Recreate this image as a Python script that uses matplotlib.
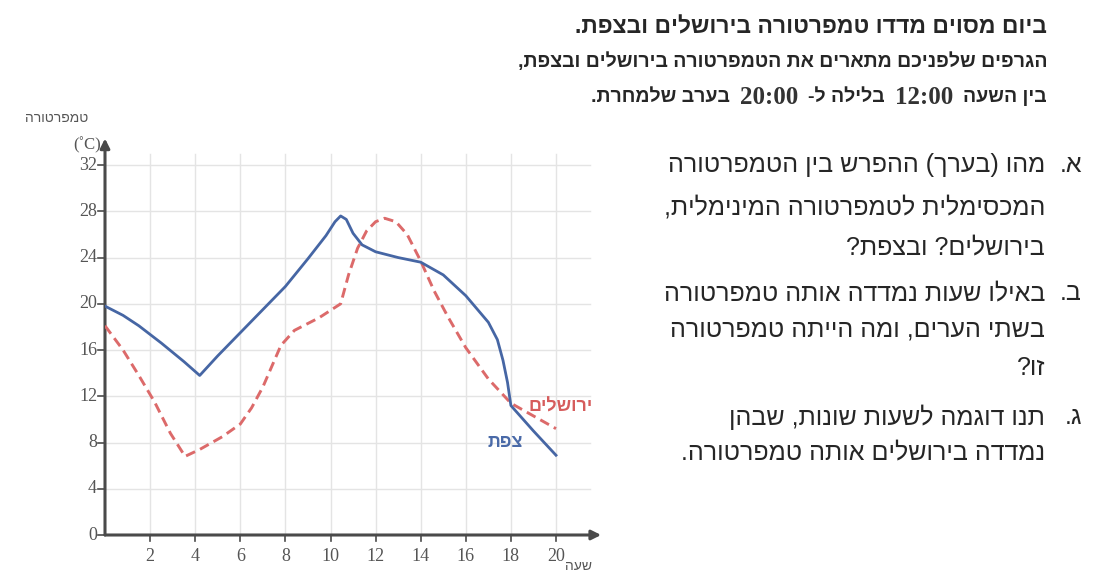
import re
import matplotlib
matplotlib.use('Agg')
import matplotlib.pyplot as plt

# שעות וטמפרטורות - צפת (קו רציף)
tz_hours = [0, 0.8, 1.5, 2.5, 3.5, 4.2, 5.0, 6.0, 7.0, 8.0, 9.0, 9.8, 10.2, 10.45, 10.7,
            11.0, 11.4, 12.0, 13.0, 14.0, 15.0, 16.0, 17.0, 17.4, 17.65, 17.85, 18.0, 19.0, 20.0]
tz_temp = [19.8, 19.0, 18.1, 16.6, 15.0, 13.8, 15.5, 17.5, 19.5, 21.5, 23.9, 25.9, 27.1, 27.6, 27.3,
           26.1, 25.1, 24.5, 24.0, 23.6, 22.5, 20.7, 18.4, 16.9, 15.1, 13.2, 11.2, 9.0, 6.9]

# ירושלים (קו מקווקו)
je_hours = [0, 0.8, 1.5, 2.2, 2.9, 3.55, 4.2, 5.2, 6.0, 6.5, 7.0, 7.8, 8.4, 9.5, 10.45, 10.8,
            11.2, 11.6, 12.0, 12.4, 12.9, 13.4, 14.0, 14.6, 15.2, 16.0, 17.0, 18.0, 19.0, 20.0]
je_temp = [18.1, 16.0, 13.8, 11.5, 8.8, 6.8, 7.4, 8.5, 9.6, 11.0, 12.8, 16.4, 17.7, 18.8, 20.0, 22.5,
           24.8, 26.3, 27.1, 27.4, 27.1, 26.0, 23.7, 21.1, 18.9, 16.2, 13.5, 11.4, 10.3, 9.2]

x_ticks = [2, 4, 6, 8, 10, 12, 14, 16, 18, 20]
y_ticks = [0, 4, 8, 12, 16, 20, 24, 28, 32]

header = [
    'ביום מסוים מדדו טמפרטורה בירושלים ובצפת.',
    'הגרפים שלפניכם מתארים את הטמפרטורה בירושלים ובצפת,',
]
header3 = ['בין השעה', '12:00', 'בלילה ל-', '20:00', 'בערב שלמחרת.']
questions = [
    ('א.', ['מהו (בערך) ההפרש בין הטמפרטורה', 'המכסימלית לטמפרטורה המינימלית,', 'בירושלים? ובצפת?']),
    ('ב.', ['באילו שעות נמדדה אותה טמפרטורה', 'בשתי הערים, ומה הייתה טמפרטורה', 'זו?']),
    ('ג.', ['תנו דוגמה לשעות שונות, שבהן', 'נמדדה בירושלים אותה טמפרטורה.']),
]

W, H = 1100, 586
HEB = ['Liberation Sans', 'DejaVu Sans']
SERIF = ['Liberation Serif', 'DejaVu Serif']


def vis(s):
    # סדר חזותי לטקסט מימין לשמאל (matplotlib לא עושה bidi)
    parts = re.findall(r'[0-9:]+|[^0-9:]+', s)
    out = []
    for p in reversed(parts):
        if p[0].isdigit():
            out.append(p)
        else:
            out.append(p[::-1].translate(str.maketrans('()', ')(')))
    return ''.join(out)


def px(x, y):
    return x / W, 1 - y / H


fig = plt.figure(figsize=(11, 5.86), dpi=100)
fig.patch.set_facecolor('white')

x0, y0 = 105, 51
sx, sy = 22.55, 11.56
ax = fig.add_axes([x0 / W, y0 / H, 22 * sx / W, 35 * sy / H])
ax.set_xlim(0, 22)
ax.set_ylim(0, 35)
ax.axis('off')

# רשת
for xv in x_ticks:
    ax.plot([xv, xv], [0, 33], color='#e4e4e4', lw=1, zorder=1)
for yv in y_ticks[1:]:
    ax.plot([0, 21.5], [yv, yv], color='#e4e4e4', lw=1, zorder=1)

# צירים עם חצים
axc = '#4a4a4a'
ax.annotate('', xy=(22, 0), xytext=(0, 0), annotation_clip=False,
            arrowprops=dict(arrowstyle='-|>', color=axc, lw=2.2, mutation_scale=14, shrinkA=0, shrinkB=0))
ax.annotate('', xy=(0, 34.3), xytext=(0, 0), annotation_clip=False,
            arrowprops=dict(arrowstyle='-|>', color=axc, lw=2.2, mutation_scale=14, shrinkA=0, shrinkB=0))

for xv in x_ticks:
    ax.plot([xv, xv], [0, -0.5], color=axc, lw=1.2, clip_on=False)
    ax.text(xv, -1.9, str(xv), ha='center', va='center', fontsize=13, color='#555555', family=SERIF)
for yv in y_ticks:
    ax.plot([-0.3, 0], [yv, yv], color=axc, lw=1.2, clip_on=False)
    ax.text(-0.35, yv, str(yv), ha='right', va='center', fontsize=13, color='#555555', family=SERIF)

# הקווים
ax.plot(je_hours, je_temp, color='#dc6a6a', lw=2.1, dashes=(3.4, 1.9), zorder=3)
ax.plot(tz_hours, tz_temp, color='#4666a4', lw=2.0, zorder=4)

ax.text(21.65, 11.1, vis('ירושלים'), color='#d65c5c', fontsize=13, fontweight='bold',
        ha='right', va='center', family=HEB)
ax.text(18.55, 8.0, vis('צפת'), color='#4a6aa8', fontsize=13, fontweight='bold',
        ha='right', va='center', family=HEB)
ax.text(21.6, -2.7, vis('שעה'), color='#555555', fontsize=10, ha='right', va='center',
        family=HEB, clip_on=False)

fig.text(*px(57, 118), vis('טמפרטורה'), color='#555555', fontsize=10, ha='center', va='center', family=HEB)
fig.text(*px(101, 145), '(˚C)', color='#555555', fontsize=12, ha='right', va='center', family=SERIF)

# טקסט מימין
tc = '#262626'
fig.text(*px(1047, 27), vis(header[0]), fontsize=16.5, fontweight='bold', color=tc,
         ha='right', va='center', family=HEB)
fig.text(*px(1047, 62), vis(header[1]), fontsize=14, fontweight='bold', color=tc,
         ha='right', va='center', family=HEB)

# שורה 3 - חלקים, המספרים בגופן סריף
r = fig.canvas.get_renderer()
xr = 1047
for seg in header3:
    if seg[0].isdigit():
        t = fig.text(*px(xr, 97), seg, fontsize=18, fontweight='bold', color='#333333',
                     ha='right', va='center', family=SERIF)
    else:
        t = fig.text(*px(xr, 97), vis(seg), fontsize=14, fontweight='bold', color=tc,
                     ha='right', va='center', family=HEB)
    xr -= t.get_window_extent(r).width + 10

qfs = 18
q_y = [[165, 208, 247], [293, 330, 368], [417, 452]]
for (mark, lines), ys in zip(questions, q_y):
    fig.text(*px(1082, ys[0]), vis(mark), fontsize=qfs, color=tc, ha='right', va='center', family=HEB)
    for line, yy in zip(lines, ys):
        fig.text(*px(1045, yy), vis(line), fontsize=qfs, color=tc, ha='right', va='center', family=HEB)

fig.savefig('out.png', dpi=100)
